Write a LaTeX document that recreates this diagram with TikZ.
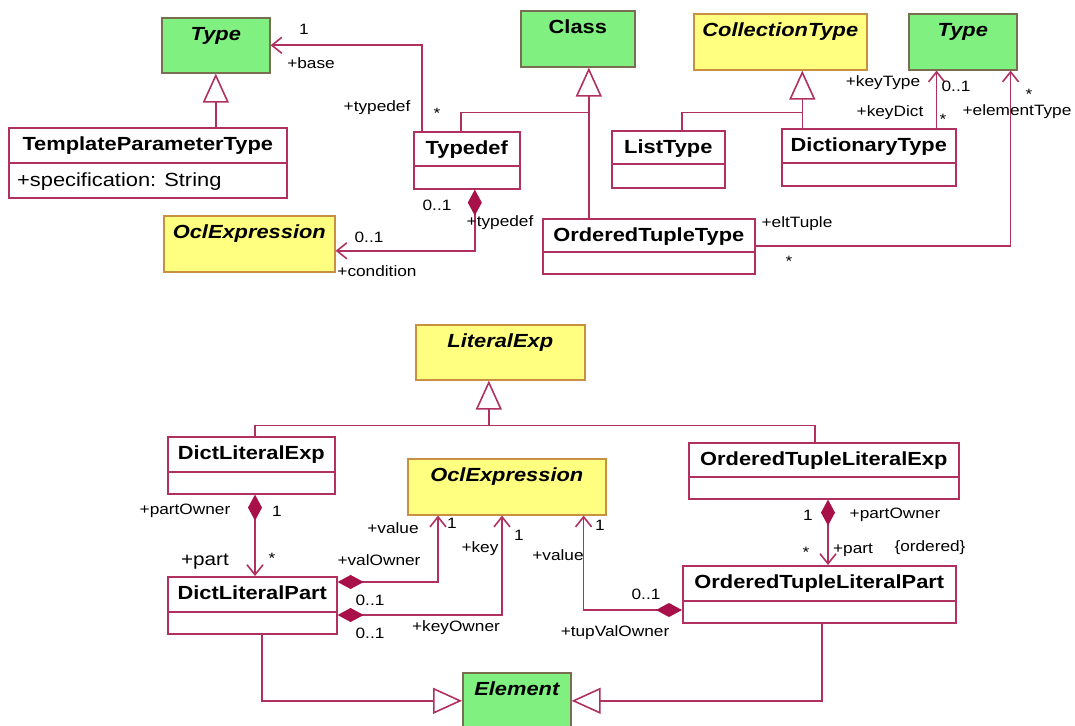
\documentclass[tikz,border=0pt]{standalone}
\usepackage{fontspec}
\setmainfont{Liberation Sans}[FakeStretch=1.15]
\usetikzlibrary{arrows.meta}

\definecolor{umlline}{RGB}{176,48,96}
\definecolor{umldiam}{RGB}{168,16,74}
\definecolor{grnfill}{RGB}{128,240,128}
\definecolor{grnborder}{RGB}{122,110,80}
\definecolor{ylwfill}{RGB}{255,255,128}
\definecolor{ylwborder}{RGB}{200,144,64}

\tikzset{
  cls/.style={draw=umlline, line width=1.6pt, fill=white, anchor=north west, inner sep=0pt},
  abstr/.style={cls, draw=ylwborder, fill=ylwfill},
  prim/.style={cls, draw=grnborder, fill=grnfill},
  title/.style={anchor=base, yshift=-23.5pt, inner sep=0pt, font=\fontsize{19}{22}\selectfont\bfseries},
  ititle/.style={title, font=\fontsize{19}{22}\selectfont\bfseries\itshape},
  attr/.style={anchor=base west, inner sep=0pt, font=\fontsize{19}{22}\selectfont},
  lbl/.style={inner sep=0pt, font=\fontsize{15}{17}\selectfont},
  line/.style={draw=umlline, line width=1.6pt},
  gen/.style={line, -{Triangle[open, length=29pt, width=26pt, fill=white]}},
  assoc/.style={line, -{Straight Barb[length=10pt, width=16pt]}},
  comp/.style={line, {Diamond[length=26pt, width=14pt, color=umldiam, fill=umldiam]}-{Straight Barb[length=10pt, width=16pt]}},
}

\begin{document}
\begin{tikzpicture}[x=1pt, y=-1pt]
\path[fill=white, use as bounding box] (0,0) rectangle (1075,725);

% upper part
\node[prim, minimum width=108pt, minimum height=55pt, label={[ititle]north:Type}] (type1) at (161,17) {};
\node[cls, minimum width=278pt, minimum height=70pt, label={[title]north:TemplateParameterType}] (tpt) at (8,127) {};
\draw[line] ([yshift=-36pt]tpt.north west) -- ([yshift=-36pt]tpt.north east);
\node[attr] (tptspec) at (17,186) {+specification: String};
\node[cls, minimum width=106pt, minimum height=57pt, label={[title]north:Typedef}] (typedef) at (413,131) {};
\draw[line] ([yshift=-35pt]typedef.north west) -- ([yshift=-35pt]typedef.north east);
\node[abstr, minimum width=171pt, minimum height=56pt, label={[ititle]north:OclExpression}] (ocl1) at (163,215) {};
\node[prim, minimum width=114pt, minimum height=56pt, label={[title]north:Class}] (class) at (520,10) {};
\node[abstr, minimum width=173pt, minimum height=56pt, label={[ititle]north:CollectionType}] (colltype) at (693,13) {};
\node[prim, minimum width=108pt, minimum height=56pt, label={[ititle]north:Type}] (type2) at (908,13) {};
\node[cls, minimum width=113pt, minimum height=57pt, label={[title]north:ListType}] (listtype) at (611,130) {};
\draw[line] ([yshift=-34pt]listtype.north west) -- ([yshift=-34pt]listtype.north east);
\node[cls, minimum width=174pt, minimum height=57pt, label={[title]north:DictionaryType}] (dicttype) at (781,128) {};
\draw[line] ([yshift=-35pt]dicttype.north west) -- ([yshift=-35pt]dicttype.north east);
\node[cls, minimum width=212pt, minimum height=55pt, label={[title]north:OrderedTupleType}] (ott) at (542,218) {};
\draw[line] ([yshift=-34pt]ott.north west) -- ([yshift=-34pt]ott.north east);

\draw[gen] (tpt.north -| type1.south) -- (type1.south);
\draw[assoc] ([xshift=9pt]typedef.north west) |- (type1.east);
\coordinate (clsgen) at ([xshift=11pt]class.south);
\draw[gen] (ott.north -| clsgen) -- (clsgen);
\draw[line] ([xshift=48pt]typedef.north west) |- ([yshift=-45pt]clsgen);
\coordinate (colgen) at ([xshift=22pt]colltype.south);
\draw[gen] (dicttype.north -| colgen) -- (colgen);
\draw[line] ([xshift=71pt]listtype.north west) |- ([yshift=-42pt]colgen);
\draw[assoc] ([xshift=-20pt]dicttype.north east) -- ([xshift=-20pt]dicttype.north east |- type2.south);
\draw[assoc] ([yshift=-28pt]ott.north east) -| ([xshift=-7pt]type2.south east);
\draw[comp] ([xshift=8pt]typedef.south) |- ([yshift=-7pt]ocl1.east);

\node[lbl] (m1) at (304,29) {1};
\node[lbl] (r1) at (311,63) {+base};
\node[lbl] (r2) at (377,108) {+typedef};
\node[lbl] (m2) at (437,113) {*};
\node[lbl] (m3) at (437,205) {0..1};
\node[lbl] (r3) at (500,223) {+typedef};
\node[lbl] (m4) at (369,237) {0..1};
\node[lbl] (r4) at (377,271) {+condition};
\node[lbl] (r5) at (883,83) {+keyType};
\node[lbl] (m5) at (956,86) {0..1};
\node[lbl] (r6) at (890,113) {+keyDict};
\node[lbl] (m6) at (943,119) {*};
\node[lbl] (m7) at (1029,94) {*};
\node[lbl] (r7) at (1017,112) {+elementType};
\node[lbl] (r8) at (797,224) {+eltTuple};
\node[lbl] (m8) at (789,261) {*};

% lower part
\node[abstr, minimum width=169pt, minimum height=55pt, label={[ititle]north:LiteralExp}] (litexp) at (415,324) {};
\node[cls, minimum width=167pt, minimum height=57pt, label={[title]north:DictLiteralExp}] (dle) at (167,436) {};
\draw[line] ([yshift=-36pt]dle.north west) -- ([yshift=-36pt]dle.north east);
\node[abstr, minimum width=198pt, minimum height=56pt, label={[ititle]north:OclExpression}] (ocl2) at (407,458) {};
\node[cls, minimum width=270pt, minimum height=56pt, label={[title]north:OrderedTupleLiteralExp}] (otle) at (688,442) {};
\draw[line] ([yshift=-35pt]otle.north west) -- ([yshift=-35pt]otle.north east);
\node[cls, minimum width=169pt, minimum height=57pt, label={[title]north:DictLiteralPart}] (dlp) at (167,576) {};
\draw[line] ([yshift=-36pt]dlp.north west) -- ([yshift=-36pt]dlp.north east);
\node[cls, minimum width=273pt, minimum height=57pt, label={[title]north:OrderedTupleLiteralPart}] (otlp) at (682,565) {};
\draw[line] ([yshift=-36pt]otlp.north west) -- ([yshift=-36pt]otlp.north east);
\node[prim, minimum width=108pt, minimum height=56pt, label={[ititle]north:Element}] (element) at (462,672) {};

\coordinate (litgen) at ([xshift=-11.5pt]litexp.south);
\draw[gen] ([yshift=-45pt]litgen) -- (litgen);
\draw[line] ([xshift=88pt]dle.north west) |- ([yshift=-45pt]litgen) -| ([xshift=127pt]otle.north west);
\draw[comp] ([xshift=88pt]dle.south west) -- ([xshift=88pt]dlp.north west);
\draw[comp] ([yshift=-6pt]dlp.north east) -| ([xshift=31pt]ocl2.south west);
\draw[comp] ([yshift=-39pt]dlp.north east) -| ([xshift=95pt]ocl2.south west);
\draw[comp] ([yshift=-45pt]otlp.north west) -| ([xshift=-23pt]ocl2.south east);
\draw[comp] ([xshift=140pt]otle.south west) -- ([xshift=146pt]otlp.north west);
\draw[gen] ([xshift=95pt]dlp.south west) |- (element.west);
\draw[gen] ([xshift=140pt]otlp.south west) |- (element.east);

\node[lbl] (r9) at (185,511) {+partOwner};
\node[lbl] (m9) at (277,511) {1};
\node[lbl, font=\fontsize{18}{20}\selectfont] (r10) at (205,562) {+part};
\node[lbl] (m10) at (272,558) {*};
\node[lbl] (r11) at (393,528) {+value};
\node[lbl] (m11) at (452,523) {1};
\node[lbl] (r12) at (379,560) {+valOwner};
\node[lbl] (m12) at (370,600) {0..1};
\node[lbl] (r13) at (480,549) {+key};
\node[lbl] (m13) at (519,535) {1};
\node[lbl] (r14) at (456,628) {+keyOwner};
\node[lbl] (m14) at (370,633) {0..1};
\node[lbl] (m15) at (808,515) {1};
\node[lbl] (r15) at (895,515) {+partOwner};
\node[lbl] (m16) at (806,552) {*};
\node[lbl] (r16) at (853,550) {+part};
\node[lbl] (c1) at (930,548) {\{ordered\}};
\node[lbl] (m17) at (646,594) {0..1};
\node[lbl] (m18) at (600,525) {1};
\node[lbl] (r17) at (558,555) {+value};
\node[lbl] (r18) at (615,633) {+tupValOwner};
\end{tikzpicture}
\end{document}
